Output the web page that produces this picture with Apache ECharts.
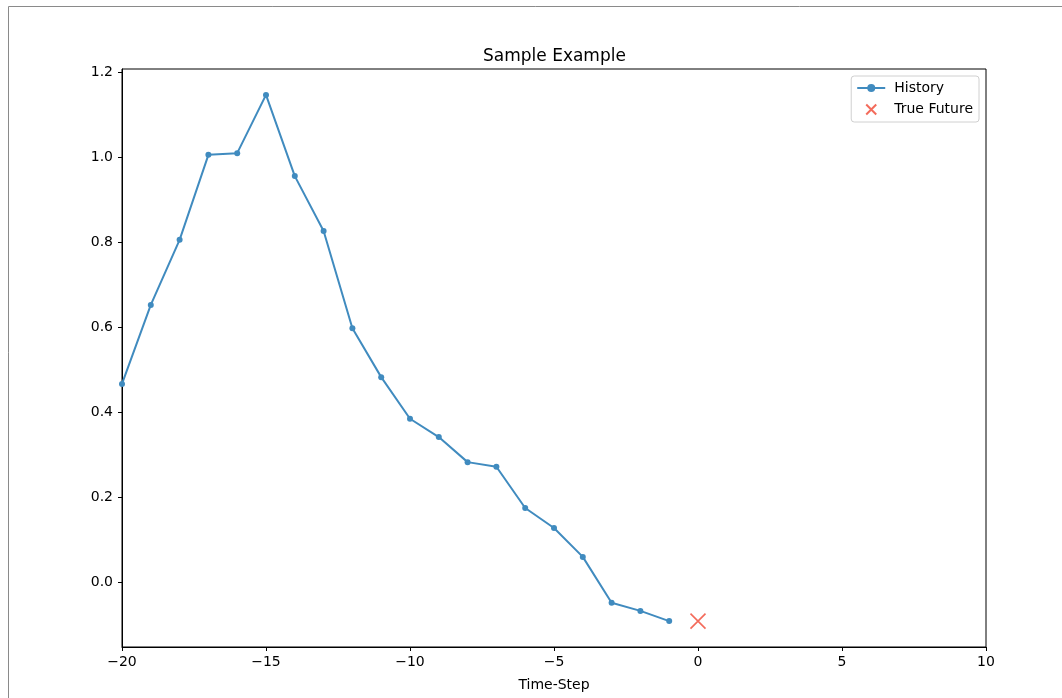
<!DOCTYPE html>
<html>
<head>
<meta charset="utf-8">
<script src="https://cdn.jsdelivr.net/npm/echarts@6/dist/echarts.min.js"></script>
<style>
  html, body { margin: 0; padding: 0; background: #fff; }
  #chart { width: 1062px; height: 698px; }
</style>
</head>
<body>
<div id="chart"></div>
<script>
// history window (time step, value)
const historySteps = [-20, -19, -18, -17, -16, -15, -14, -13, -12, -11, -10, -9, -8, -7, -6, -5, -4, -3, -2, -1];
const historyValues = [0.466, 0.652, 0.805, 1.005, 1.009, 1.146, 0.955, 0.826, 0.597, 0.482, 0.384, 0.341, 0.282, 0.271, 0.174, 0.127, 0.059, -0.049, -0.068, -0.092];
const futureSteps = [0];
const futureValues = [-0.092];
const yTicks = [0.0, 0.2, 0.4, 0.6, 0.8, 1.0, 1.2];

const font = "DejaVu Sans";
let chart = echarts.init(document.getElementById("chart"));

chart.setOption({
  animation: false,
  backgroundColor: "#fff",
  title: {
    text: "Sample Example",
    left: 478,
    top: 43,
    textStyle: { fontFamily: font, fontSize: 17, fontWeight: "normal", color: "#000" }
  },
  graphic: [
    {
      type: "rect",
      shape: { x: 8.5, y: 6.5, width: 1100, height: 800 },
      style: { fill: "none", stroke: "#8a8a8a", lineWidth: 1 },
      silent: true
    }
  ],
  legend: {
    orient: "vertical",
    right: 83,
    top: 76,
    padding: [5, 6, 5, 5],
    itemGap: 7,
    itemWidth: 28,
    itemHeight: 10,
    borderColor: "#d0d0d0",
    borderWidth: 1,
    borderRadius: 3,
    backgroundColor: "rgba(255,255,255,0.8)",
    textStyle: { fontFamily: font, fontSize: 14, color: "#000", padding: [0, 0, 0, 4] },
    data: ["History", "True Future"]
  },
  grid: {
    left: 122,
    right: 76,
    top: 69,
    bottom: 51,
    show: true,
    borderColor: "#000",
    borderWidth: 1,
    containLabel: false
  },
  xAxis: {
    type: "value",
    min: -20,
    max: 10,
    interval: 5,
    name: "Time-Step",
    nameLocation: "middle",
    nameGap: 31,
    nameTextStyle: { fontFamily: font, fontSize: 14, color: "#000" },
    axisLine: { show: true, onZero: false, lineStyle: { color: "#000", width: 1 } },
    axisTick: { show: true, length: 4, lineStyle: { color: "#000" } },
    axisLabel: {
      fontFamily: font, fontSize: 14, color: "#000", margin: 8,
      formatter: v => String(v).replace("-", "\u2212")
    },
    splitLine: { show: false }
  },
  yAxis: {
    type: "value",
    min: -0.153,
    max: 1.207,
    axisLine: { show: true, onZero: false, lineStyle: { color: "#000", width: 1 } },
    axisTick: { show: true, length: 4, lineStyle: { color: "#000" }, customValues: yTicks },
    axisLabel: {
      fontFamily: font, fontSize: 14, color: "#000", margin: 9,
      customValues: yTicks,
      formatter: v => v.toFixed(1).replace("-", "\u2212")
    },
    splitLine: { show: false }
  },
  series: [
    {
      name: "History",
      type: "line",
      data: historySteps.map((s, i) => [s, historyValues[i]]),
      symbol: "circle",
      symbolSize: 6,
      showSymbol: true,
      lineStyle: { color: "#408bbf", width: 2 },
      itemStyle: { color: "#408bbf" },
      z: 3
    },
    {
      name: "True Future",
      type: "scatter",
      data: futureSteps.map((s, i) => [s, futureValues[i]]),
      symbol: "path://M0,0L10,10M10,0L0,10",
      symbolSize: 15,
      itemStyle: { color: "none", borderColor: "#f04632", borderWidth: 1.6 },
      z: 4
    }
  ]
});
</script>
</body>
</html>
